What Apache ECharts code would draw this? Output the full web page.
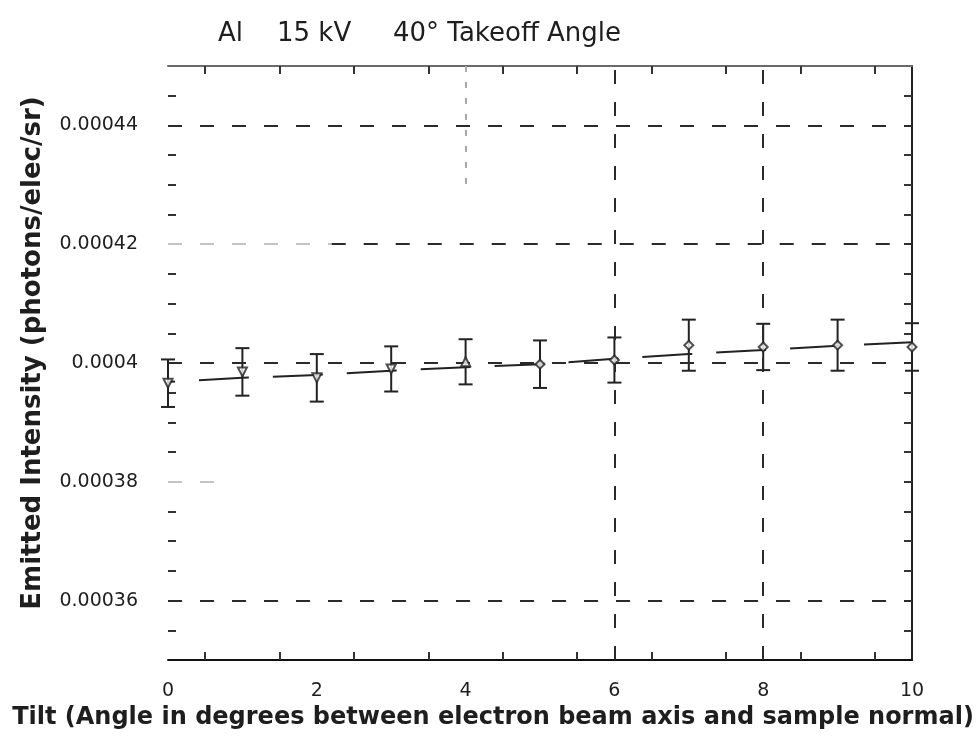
<!DOCTYPE html>
<html lang="en">
<head>
    <meta charset="utf-8">
    <title>Al 15 kV tilt</title>
    <script src="https://cdn.jsdelivr.net/npm/echarts@6/dist/echarts.min.js"></script>
    <style>
        html, body { margin: 0; padding: 0; background: #fff; }
        #chart { width: 977px; height: 740px; }
    </style>
</head>
<body>
<div id="chart"></div>
<script type="text/javascript">
    // tilt angle (degrees)
    const tilt = [0, 1, 2, 3, 4, 5, 6, 7, 8, 9, 10];
    // measured emitted intensity and its error
    const measured = [0.0003966, 0.0003985, 0.0003975, 0.000399, 0.0004002, 0.0003998,
        0.0004005, 0.000403, 0.0004027, 0.000403, 0.0004027];
    const errors = [0.000004, 0.000004, 0.000004, 0.0000038, 0.0000038, 0.000004,
        0.0000038, 0.0000043, 0.0000039, 0.0000043, 0.000004];
    // calculated curve
    const model = [0.0003968, 0.0003975, 0.000398, 0.0003987, 0.0003993, 0.0003998,
        0.0004007, 0.0004015, 0.0004022, 0.0004029, 0.0004035];

    const yLabels = [0.00036, 0.00038, 0.0004, 0.00042, 0.00044];
    const yTicks = [];
    for (let k = 71; k <= 89; k++) yTicks.push(k * 0.000005);
    const xLabels = [0, 2, 4, 6, 8, 10];
    const xTicks = [0.5, 1.5, 2.5, 3.5, 4.5, 5.5, 6.5, 7.5, 8.5, 9.5];

    const gridY = [0.00036, 0.0004, 0.00044];
    const gridX = [6, 8];

    const chart = echarts.init(document.getElementById('chart'));
    const ink = '#1e1e1e';
    const font = 'DejaVu Sans';

    const dashed = {color: '#2a2a2a', width: 2, type: [14, 18]};
    const faint = {color: '#c4c4c4', width: 2, type: [14, 18]};

    function seg(x1, y1, x2, y2, style) {
        return [{coord: [x1, y1], lineStyle: style}, {coord: [x2, y2]}];
    }

    const markLines = gridY.map(v => seg(0, v, 10, v, dashed))
        .concat(gridX.map(v => seg(v, 0.00035, v, 0.00045, dashed)))
        .concat([
            seg(0, 0.00042, 2.2, 0.00042, faint),
            seg(2.2, 0.00042, 10, 0.00042, dashed),
            seg(0, 0.00038, 0.65, 0.00038, faint),
            seg(4, 0.00045, 4, 0.000429, {color: '#aaa', width: 2, type: [6, 10]})
        ]);

    const tickStyle = {show: true, inside: true, length: 8, lineStyle: {color: '#333', width: 2}};

    const option = {
        animation: false,
        backgroundColor: '#fff',
        title: [
            {text: 'Al', left: 213, top: 16},
            {text: '15 kV', left: 272, top: 16},
            {text: '40° Takeoff Angle', left: 388, top: 16}
        ].map(t => Object.assign(t, {
            textStyle: {fontFamily: font, fontSize: 26, fontWeight: 'normal', color: ink}
        })),
        grid: {left: 168, right: 65, top: 66, bottom: 80},
        xAxis: [
            {
                type: 'value', min: 0, max: 10, position: 'bottom',
                name: 'Tilt (Angle in degrees between electron beam axis and sample normal)',
                nameLocation: 'middle', nameGap: 44,
                nameTextStyle: {fontFamily: font, fontSize: 24, fontWeight: 'bold', color: ink, padding: [0, 94, 0, 0]},
                axisLine: {show: true, onZero: false, lineStyle: {color: '#111', width: 2}},
                axisTick: Object.assign({customValues: xTicks}, tickStyle),
                axisLabel: {customValues: xLabels, margin: 22, fontFamily: font, fontSize: 19, color: ink},
                splitLine: {show: false}
            },
            {
                type: 'value', min: 0, max: 10, position: 'top',
                axisLine: {show: true, onZero: false, lineStyle: {color: '#6a6a6a', width: 2}},
                axisTick: Object.assign({customValues: xTicks}, tickStyle),
                axisLabel: {show: false},
                splitLine: {show: false}
            }
        ],
        yAxis: [
            {
                type: 'value', min: 0.00035, max: 0.00045, position: 'left',
                name: 'Emitted Intensity (photons/elec/sr)',
                nameLocation: 'middle', nameGap: 122,
                nameTextStyle: {fontFamily: font, fontSize: 26, fontWeight: 'bold', color: ink, padding: [0, 0, 0, 20]},
                axisLine: {show: false, onZero: false},
                axisTick: Object.assign({customValues: yTicks}, tickStyle),
                axisLabel: {
                    customValues: yLabels, margin: 30, fontFamily: font, fontSize: 19, color: ink,
                    formatter: v => String(parseFloat(v.toFixed(6)))
                },
                splitLine: {show: false}
            },
            {
                type: 'value', min: 0.00035, max: 0.00045, position: 'right',
                axisLine: {show: true, onZero: false, lineStyle: {color: '#222', width: 2}},
                axisTick: Object.assign({customValues: yTicks}, tickStyle),
                axisLabel: {show: false},
                splitLine: {show: false}
            }
        ],
        series: [
            {
                name: 'grid',
                type: 'line',
                data: [],
                silent: true,
                markLine: {silent: true, symbol: 'none', label: {show: false}, animation: false, data: markLines}
            },
            {
                name: 'calculated',
                type: 'line',
                data: tilt.map((x, i) => [x, model[i]]),
                showSymbol: false,
                lineStyle: {color: '#222', width: 2, type: [50, 24], dashOffset: 43},
                z: 3
            },
            {
                name: 'error',
                type: 'custom',
                data: tilt.map((x, i) => [x, measured[i], errors[i]]),
                renderItem: function (params, api) {
                    const x = api.value(0), y = api.value(1), e = api.value(2);
                    const hi = api.coord([x, y + e]);
                    const lo = api.coord([x, y - e]);
                    const w = 7;
                    const style = {stroke: '#222', lineWidth: 2};
                    return {
                        type: 'group',
                        children: [
                            {type: 'line', shape: {x1: hi[0], y1: hi[1], x2: lo[0], y2: lo[1]}, style: style},
                            {type: 'line', shape: {x1: hi[0] - w, y1: hi[1], x2: hi[0] + w, y2: hi[1]}, style: style},
                            {type: 'line', shape: {x1: lo[0] - w, y1: lo[1], x2: lo[0] + w, y2: lo[1]}, style: style}
                        ]
                    };
                },
                z: 4
            },
            {
                name: 'measured',
                type: 'scatter',
                data: tilt.map((x, i) => [x, measured[i]]),
                symbol: function (v, params) {
                    return params.dataIndex < 5 ? 'triangle' : 'diamond';
                },
                symbolRotate: function (v, params) {
                    return params.dataIndex < 4 ? 180 : 0;
                },
                symbolSize: 9,
                itemStyle: {color: '#fff', borderColor: '#222', borderWidth: 2},
                z: 5
            }
        ]
    };
    chart.setOption(option);
</script>
</body>
</html>
